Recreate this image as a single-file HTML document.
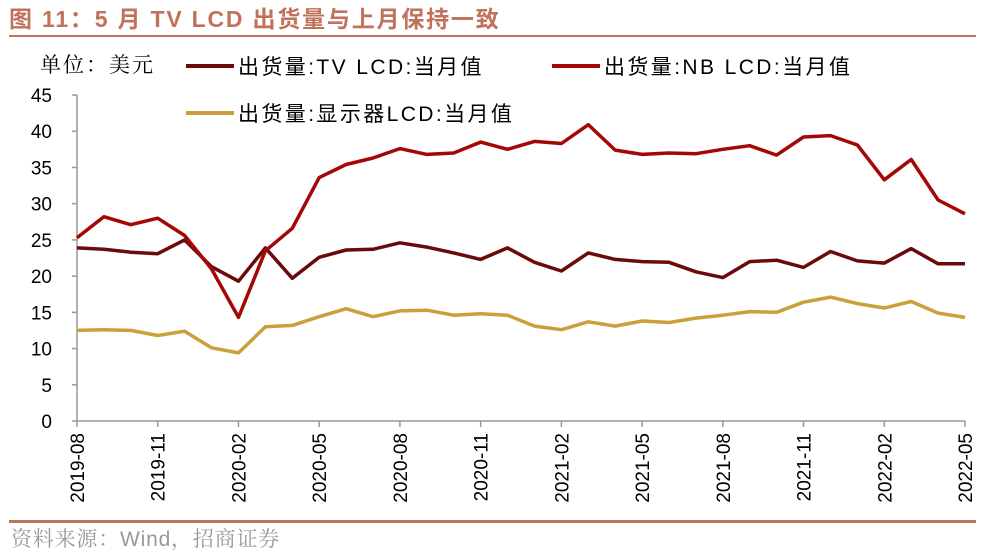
<!DOCTYPE html>
<html><head><meta charset="utf-8"><style>
body{margin:0;background:#fff;width:985px;height:554px;overflow:hidden;font-family:"Liberation Sans","Noto Sans CJK SC",sans-serif}
</style></head><body>
<svg id="chart" width="985" height="554" xmlns="http://www.w3.org/2000/svg">
<text x="9" y="27" font-size="23" font-weight="bold" fill="#c0725a" letter-spacing="1.8" font-family="Liberation Sans, Noto Sans CJK SC, sans-serif">图 11：5 月 TV LCD 出货量与上月保持一致</text>
<rect x="9" y="35" width="967" height="2" fill="#c0725a"/>
<text x="40" y="72" font-size="21" fill="#000" letter-spacing="2" font-family="Noto Serif CJK SC, serif">单位：美元</text>
<g id="legend"></g>
<g id="axes"></g>
<g id="series"></g>
<rect x="9" y="520" width="967" height="3" fill="#c0725a"/>
<text x="11" y="546" font-size="21" fill="#999" letter-spacing="0.8" font-family="Liberation Sans, Noto Serif CJK SC, sans-serif">资料来源：Wind，招商证券</text>
</svg>
<script>
const months=["2019-08","2019-09","2019-10","2019-11","2019-12","2020-01","2020-02","2020-03","2020-04","2020-05","2020-06","2020-07","2020-08","2020-09","2020-10","2020-11","2020-12","2021-01","2021-02","2021-03","2021-04","2021-05","2021-06","2021-07","2021-08","2021-09","2021-10","2021-11","2021-12","2022-01","2022-02","2022-03","2022-04","2022-05"];
const tvValues=[23.9,23.7,23.3,23.1,25.0,21.3,19.3,23.9,19.7,22.6,23.6,23.7,24.6,24.0,23.2,22.3,23.9,21.9,20.7,23.2,22.3,22.0,21.9,20.6,19.8,22.0,22.2,21.2,23.4,22.1,21.8,23.8,21.7,21.7];
const nbValues=[25.3,28.2,27.1,28.0,25.6,21.0,14.3,23.5,26.6,33.6,35.4,36.3,37.6,36.8,37.0,38.5,37.5,38.6,38.3,40.9,37.4,36.8,37.0,36.9,37.5,38.0,36.7,39.2,39.4,38.1,33.3,36.1,30.5,28.6];
const monValues=[12.5,12.6,12.5,11.8,12.4,10.1,9.4,13.0,13.2,14.4,15.5,14.4,15.2,15.3,14.6,14.8,14.6,13.1,12.6,13.7,13.1,13.8,13.6,14.2,14.6,15.1,15.0,16.4,17.1,16.2,15.6,16.5,14.9,14.3];
const yTicks=[0,5,10,15,20,25,30,35,40,45];
const seriesNames=["出货量:TV LCD:当月值","出货量:NB LCD:当月值","出货量:显示器LCD:当月值"];

const NS="http://www.w3.org/2000/svg";
const X0=77,X1=965,Y0=421,Y1=95,YMAX=45;
const xs=i=>X0+i*(X1-X0)/(months.length-1);
const ys=v=>Y0-v*(Y0-Y1)/YMAX;
function mk(tag,attrs,parent){const e=document.createElementNS(NS,tag);for(const k in attrs)e.setAttribute(k,attrs[k]);parent.appendChild(e);return e;}
const axes=document.getElementById('axes');
let yl=mk('line',{x1:X0,y1:Y1,x2:X0,y2:Y0,stroke:'#999','stroke-width':1.5},axes);


let xl=mk('line',{x1:X0,y1:Y0,x2:X1,y2:Y0,stroke:'#999','stroke-width':1.5},axes);


yTicks.forEach(t=>{
  let tk=mk('line',{x1:X0-5,y1:ys(t),x2:X0,y2:ys(t),stroke:'#999','stroke-width':1.5},axes);
  
  
  let tx=mk('text',{x:X0-25,y:ys(t)+7,'font-size':19,'text-anchor':'end',fill:'#000'},axes);
  tx.textContent=t;
  
  
});
months.forEach((m,i)=>{
  if(i%3!==0)return;
  const x=xs(i);
  let tk=mk('line',{x1:x,y1:Y0,x2:x,y2:Y0+6,stroke:'#999','stroke-width':1.5},axes);
  
  
  let tx=mk('text',{x:0,y:0,'font-size':19,'text-anchor':'end',fill:'#000',transform:`translate(${x+7},${Y0+12}) rotate(-90)`},axes);
  tx.textContent=m;
  
  
});
const colors=['#6b0a0a','#a50606','#c9a03a'];
const sers=[tvValues,nbValues,monValues];
const names=['tv-lcd-line','nb-lcd-line','monitor-lcd-line'];
const sg=document.getElementById('series');
[2,0,1].forEach(k=>{
  const d=sers[k].map((v,i)=>(i?'L':'M')+xs(i).toFixed(1)+','+ys(v).toFixed(1)).join('');
  let p=mk('path',{d:d,fill:'none',stroke:colors[k],'stroke-width':3.5,'stroke-linejoin':'round'},sg);
  
  
});
const lg=document.getElementById('legend');
const lpos=[[186,72],[552,72],[186,119]];
seriesNames.forEach((n,k)=>{
  const [x,y]=lpos[k];
  let l=mk('line',{x1:x,y1:y-6,x2:x+48,y2:y-6,stroke:colors[k],'stroke-width':4},lg);
  
  
  let t=mk('text',{x:x+52,y:y+2,'font-size':21,fill:'#000','letter-spacing':'2.4'},lg);
  t.textContent=n;
  
  
});
</script>
</body></html>
